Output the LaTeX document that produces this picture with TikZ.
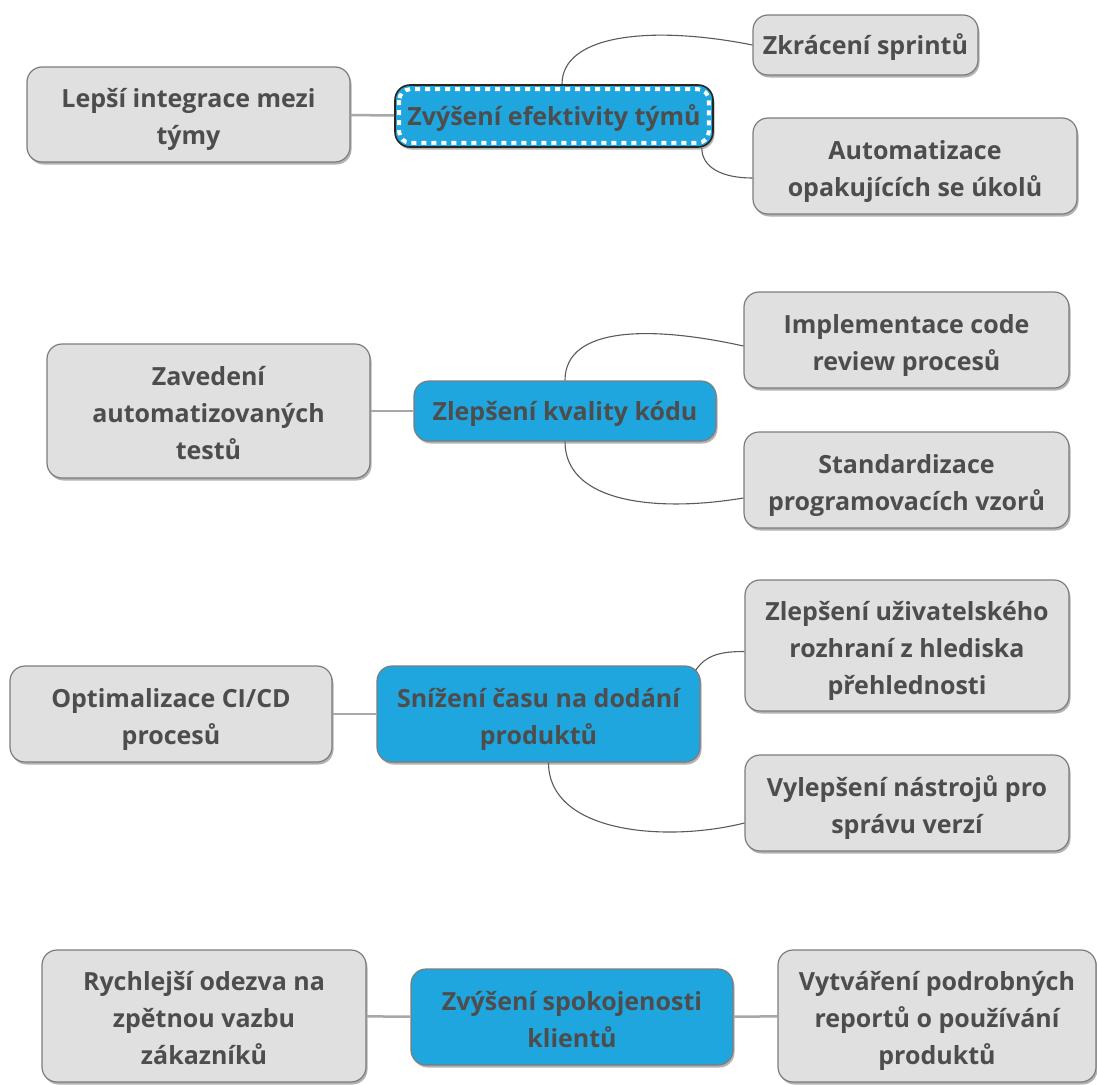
\documentclass[tikz,border=0pt]{standalone}
\usepackage{fontspec}
\setmainfont{Open Sans}
\usepackage{tikz}
\usetikzlibrary{positioning, shadows}

\definecolor{leafgray}{HTML}{E0E0E0}
\definecolor{leafline}{HTML}{7C7C7C}
\definecolor{goalblue}{HTML}{20A6DE}
\definecolor{inkgray}{HTML}{4D4D4D}
\definecolor{stemgray}{HTML}{A8A8A8}
\definecolor{twiggray}{HTML}{5A5A5A}

\begin{document}
\begin{tikzpicture}[
    x=1pt, y=-1pt,
    box/.style={rounded corners=15pt, align=center, text=inkgray,
        font=\fontsize{25}{37}\selectfont\bfseries, inner sep=0pt,
        drop shadow={shadow xshift=1.5pt, shadow yshift=-2.5pt, fill=black, opacity=0.3}},
    leaf/.style={box, fill=leafgray, draw=leafline, line width=1.2pt},
    goal/.style={box, fill=goalblue, draw=leafline, line width=1.2pt},
    one/.style={text height=26pt, text depth=8pt},
    two/.style={text height=68pt, text depth=8pt},
    three/.style={text height=105pt, text depth=8pt},
    stem/.style={draw=stemgray, line width=2.5pt},
    twig/.style={draw=twiggray, line width=1.1pt}
]
\useasboundingbox (0,0) rectangle (1097,1084);

% goal 1
\node [goal, one, draw=black!85, line width=1.6pt, minimum width=318pt, minimum height=62pt] (efekt) at (554,116) {Zvýšení efektivity týmů};
\draw[white, line width=4pt, dash pattern=on 5pt off 5pt, rounded corners=11pt]
    ([shift={(5pt,-5pt)}]efekt.north west) rectangle ([shift={(-5pt,5pt)}]efekt.south east);
\node [leaf, two, minimum width=323pt, minimum height=95pt] (lepsi) at (188.5,114.5) {Lepší integrace mezi\\týmy};
\node [leaf, one, minimum width=225pt, minimum height=60pt] (sprint) at (865.5,45) {Zkrácení sprintů};
\node [leaf, two, minimum width=324pt, minimum height=96pt] (autom) at (915,166) {Automatizace\\opakujících se úkolů};

% goal 2
\node [goal, one, minimum width=302pt, minimum height=60pt] (kval) at (565,411) {Zlepšení kvality kódu};
\node [leaf, three, minimum width=323pt, minimum height=134pt] (zaved) at (208.5,411) {Zavedení\\automatizovaných\\testů};
\node [leaf, two, minimum width=325pt, minimum height=96pt] (review) at (906.5,340) {Implementace code\\review procesů};
\node [leaf, two, minimum width=325pt, minimum height=96pt] (stand) at (906.5,480) {Standardizace\\programovacích vzorů};

% goal 3
\node [goal, two, minimum width=323pt, minimum height=96pt] (cas) at (538.5,714) {Snížení času na dodání\\produktů};
\node [leaf, two, minimum width=322pt, minimum height=96pt] (optim) at (171,714) {Optimalizace CI/CD\\procesů};
\node [leaf, three, minimum width=324pt, minimum height=131pt] (ui) at (907,645.5) {Zlepšení uživatelského\\rozhraní z hlediska\\přehlednosti};
\node [leaf, two, minimum width=324pt, minimum height=96pt] (verze) at (907,803) {Vylepšení nástrojů pro\\správu verzí};

% goal 4
\node [goal, two, minimum width=322pt, minimum height=96pt] (spokoj) at (572,1017) {Zvýšení spokojenosti\\klientů};
\node [leaf, three, minimum width=324pt, minimum height=132pt] (rychl) at (204,1016) {Rychlejší odezva na\\zpětnou vazbu\\zákazníků};
\node [leaf, three, minimum width=318pt, minimum height=132pt] (report) at (937,1016) {Vytváření podrobných\\reportů o používání\\produktů};

\draw[stem] (lepsi) -- (efekt);
\draw[stem] (zaved) -- (kval);
\draw[stem] (optim) -- (cas);
\draw[stem] (rychl) -- (spokoj);
\draw[stem] (spokoj) -- (report);

\draw[twig] ([xshift=8pt]efekt.north) .. controls +(0,-50) and +(-100,-20) .. (sprint.west);
\draw[twig] ([xshift=-12pt]efekt.south east) .. controls +(0,20) and +(-30,0) .. ([yshift=-12pt]autom.west);
\draw[twig] (kval.north) .. controls +(0,-55) and +(-90,-20) .. ([yshift=-6pt]review.west);
\draw[twig] (kval.south) .. controls +(0,60) and +(-90,15) .. ([yshift=-18pt]stand.west);
\draw[twig] ([xshift=-5pt,yshift=-5pt]cas.north east) .. controls +(10,-15) and +(-25,0) .. ([yshift=-6pt]ui.west);
\draw[twig] ([xshift=10pt]cas.south) .. controls +(0,70) and +(-80,20) .. ([yshift=-20pt]verze.west);
\end{tikzpicture}
\end{document}
